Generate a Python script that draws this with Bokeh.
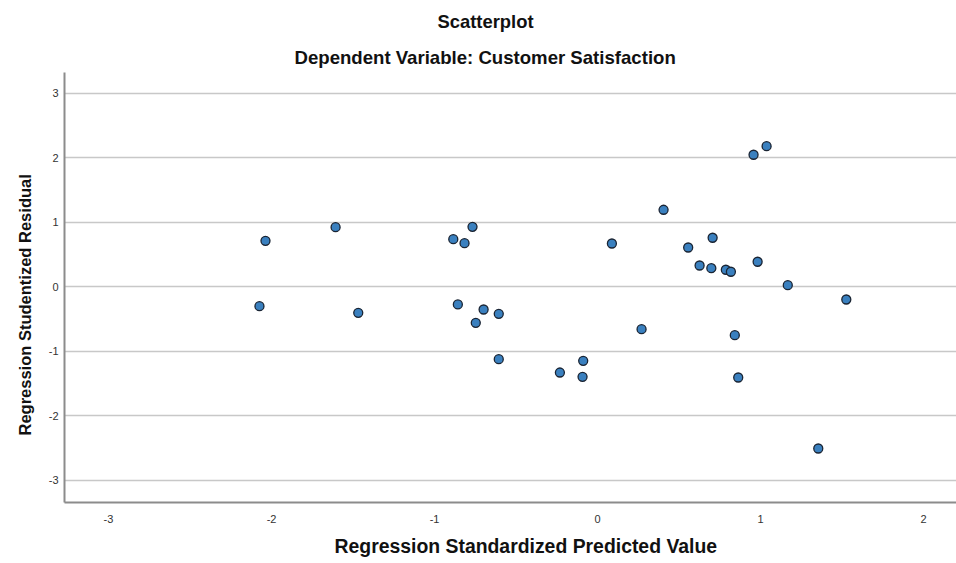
from bokeh.plotting import figure
from bokeh.models import Range1d, FixedTicker, Title
from bokeh.embed import file_html
from bokeh.resources import INLINE

# Data
pred = [-2.037, -1.607, -0.885, -0.816, -0.767, -2.074, -1.468, -0.857,
        -0.699, -0.747, -0.606, -0.606, 1.037, 0.957, 0.405, 0.088,
        0.556, 0.706, 0.626, 0.698, 0.787, 0.818, 0.982, 1.167,
        1.526, 0.270, 0.842, -0.088, -0.231, -0.092, 0.863, 1.354]
resid = [0.713, 0.924, 0.738, 0.676, 0.930, -0.301, -0.403, -0.274,
         -0.352, -0.558, -0.419, -1.122, 2.180, 2.047, 1.194, 0.671,
         0.609, 0.760, 0.330, 0.288, 0.264, 0.233, 0.388, 0.025,
         -0.197, -0.657, -0.750, -1.147, -1.329, -1.395, -1.406, -2.507]
x_ticks = [-3, -2, -1, 0, 1, 2]
y_ticks = [-3, -2, -1, 0, 1, 2, 3]
title_1 = "Scatterplot"
title_2 = "Dependent Variable: Customer Satisfaction"
x_label = "Regression Standardized Predicted Value"
y_label = "Regression Studentized Residual"

FONT = "Liberation Sans"

p = figure(width=956, height=563, output_backend="svg", toolbar_location=None,
           x_range=Range1d(-3.270, 2.202), y_range=Range1d(-3.344, 3.322),
           min_border_left=64, min_border_right=0, min_border_top=72,
           min_border_bottom=61)
p.outline_line_color = None
p.background_fill_color = "white"
p.border_fill_color = "white"

p.xaxis.ticker = FixedTicker(ticks=x_ticks)
p.yaxis.ticker = FixedTicker(ticks=y_ticks)
p.xaxis.major_label_overrides = {t: str(t) for t in x_ticks}
p.yaxis.major_label_overrides = {t: str(t) for t in y_ticks}
for ax in (p.xaxis, p.yaxis):
    ax.axis_line_color = "#8c8c8c"
    ax.axis_line_width = 2
    ax.major_tick_line_color = None
    ax.minor_tick_line_color = None
    ax.major_tick_out = 0
    ax.major_tick_in = 0
    ax.minor_tick_out = 0
    ax.major_label_text_font = FONT
    ax.major_label_text_font_size = "11px"
    ax.major_label_text_color = "#333333"
p.xaxis.major_label_standoff = 12
p.yaxis.major_label_standoff = 6

p.xgrid.grid_line_color = None
p.ygrid.ticker = FixedTicker(ticks=y_ticks)
p.ygrid.grid_line_color = "#c8c8c8"
p.ygrid.grid_line_width = 1.5

p.scatter(pred, resid, size=9, fill_color="#3a80bf", line_color="#1a2433",
          line_width=1.3)

def title(text, where, size, offset, standoff):
    t = Title(text=text, align="left", offset=offset, standoff=standoff,
              text_font=FONT, text_font_style="bold", text_font_size=size,
              text_color="#111111")
    p.add_layout(t, where)

title(title_2, "above", "18.6px", 230, 9)
title(title_1, "above", "18.4px", 373, 17)
title(x_label, "below", "19.4px", 270, 14)
title(y_label, "left", "16.5px", 67, 24)

open("out.html", "w").write(file_html(p, INLINE))
